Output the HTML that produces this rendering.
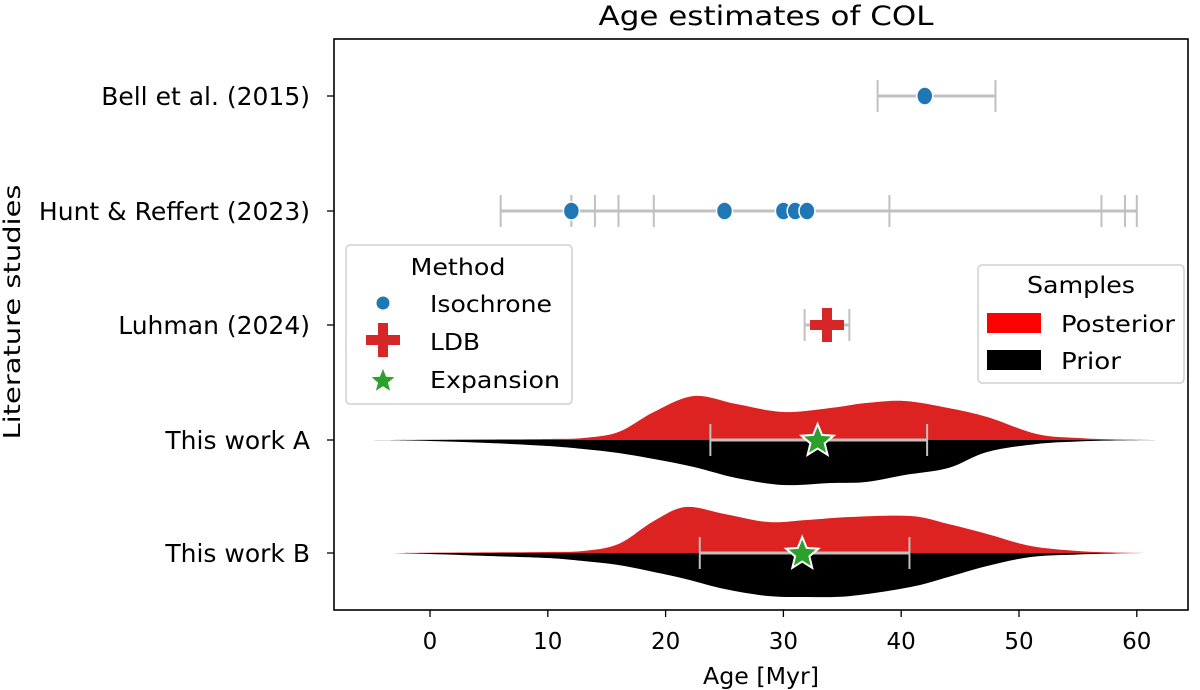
<!DOCTYPE html>
<html><head><meta charset="utf-8"><style>
body{margin:0;background:#fff}
svg{display:block;font-family:"DejaVu Sans","Liberation Sans",sans-serif}
</style></head><body>
<svg id="chart" width="1200" height="690" viewBox="0 0 1200 690">
<text x="766" y="25" font-size="27" text-anchor="middle" textLength="335" lengthAdjust="spacingAndGlyphs">Age estimates of COL</text>
<g id="marks"></g>
<rect x="334" y="39" width="854" height="571" fill="none" stroke="#000" stroke-width="1.6"/>
<g id="axes"></g>
<text x="761" y="684" font-size="23" text-anchor="middle" textLength="116" lengthAdjust="spacingAndGlyphs">Age [Myr]</text>
<text transform="translate(20,312) rotate(-90)" font-size="23" text-anchor="middle" textLength="255" lengthAdjust="spacingAndGlyphs">Literature studies</text>
<g>
<rect x="346" y="245" width="226" height="159" rx="4" fill="#fff" fill-opacity="0.85" stroke="#d0d0d0" stroke-width="1.5"/>
<text x="458" y="275" font-size="23" text-anchor="middle" textLength="95" lengthAdjust="spacingAndGlyphs">Method</text>
<circle cx="383" cy="303" r="6.5" fill="#1f77b4"/>
<text x="430" y="312" font-size="23" textLength="122" lengthAdjust="spacingAndGlyphs">Isochrone</text>
<path d="M378,323h10v12h12v10h-12v12h-10v-12h-12v-10h12z" fill="#d62728"/>
<text x="430" y="350" font-size="23" textLength="50" lengthAdjust="spacingAndGlyphs">LDB</text>
<polygon id="legstar" fill="#2ca02c"/>
<text x="430" y="388" font-size="23" textLength="130" lengthAdjust="spacingAndGlyphs">Expansion</text>
</g>
<g>
<rect x="978" y="265" width="206" height="118" rx="4" fill="#fff" fill-opacity="0.85" stroke="#d0d0d0" stroke-width="1.5"/>
<text x="1081" y="293" font-size="23" text-anchor="middle" textLength="108" lengthAdjust="spacingAndGlyphs">Samples</text>
<rect x="987" y="313" width="54" height="20" fill="#ff0000"/>
<text x="1061" y="332" font-size="23" textLength="114" lengthAdjust="spacingAndGlyphs">Posterior</text>
<rect x="987" y="350" width="54" height="20" fill="#000"/>
<text x="1061" y="369" font-size="23" textLength="60" lengthAdjust="spacingAndGlyphs">Prior</text>
</g>
</svg>
<script>
const rows = ["Bell et al. (2015)","Hunt & Reffert (2023)","Luhman (2024)","This work A","This work B"];
const rowY = [96,211,325,440,553];
const xTicks = [0,10,20,30,40,50,60];
// isochrone points
const isoRows = [0,1,1,1,1,1];
const isoVals = [42,12,25,30,31,32];
const isoLo = [38,6,16,14,19,12];
const isoHi = [48,12,39,57,59,60];
const ldbVal = [33.7], ldbLo=[31.8], ldbHi=[35.6];
const expVals = [32.9,31.6], expLo=[23.8,22.9], expHi=[42.2,40.7];
// violin densities (height units)
const gridA = [-5,0,5,10,13,16,19,22.4,26,30,34,37,40.3,44,47.3,51.5,55,58,62];
const postA = [0,0.3,0.6,1,2,8,28,44,36,28,32,37,39,32,23,6,2,0.6,0];
const priorA = [0,1,3,6,9,13,19,27,38,45,43,42,35,28,12,4,1.5,0.5,0];
const gridB = [-3.5,0,5,10,13,16,19,21.7,25,28.7,32,35.7,40.8,44,47.3,51,55,58,61];
const postB = [0,0.3,0.6,1,2,9,32,46,39,31,33,36,37,29,19,7,2,0.5,0];
const priorB = [0,1,3,5,8,12,19,26,36,43,44,43,34,24,13,4,1.5,0.5,0];

const sx = v => 430 + v*11.78;
const NS = "http://www.w3.org/2000/svg";
const marks = document.getElementById('marks'), axes = document.getElementById('axes');
function mk(tag, attrs, parent){const e=document.createElementNS(NS,tag);for(const k in attrs)e.setAttribute(k,attrs[k]);parent.appendChild(e);return e;}

function smoothPath(grid, vals, y0, sign){
  const pts = grid.map((g,i)=>[sx(g), y0 + sign*vals[i]]);
  let d = `M${pts[0][0]},${y0}`;
  d += `L${pts[0][0]},${pts[0][1]}`;
  for(let i=0;i<pts.length-1;i++){
    const p0=pts[Math.max(0,i-1)],p1=pts[i],p2=pts[i+1],p3=pts[Math.min(pts.length-1,i+2)];
    const c1=[p1[0]+(p2[0]-p0[0])/6,p1[1]+(p2[1]-p0[1])/6];
    const c2=[p2[0]-(p3[0]-p1[0])/6,p2[1]-(p3[1]-p1[1])/6];
    d+=`C${c1[0]},${c1[1]} ${c2[0]},${c2[1]} ${p2[0]},${p2[1]}`;
  }
  return d+'Z';
}
[[gridA,postA,priorA,3,'a'],[gridB,postB,priorB,4,'b']].forEach(([g,po,pr,r,n])=>{
  let e=mk('path',{d:smoothPath(g,po,rowY[r],-1),fill:'#dd2222'},marks);
  
  
  e=mk('path',{d:smoothPath(g,pr,rowY[r],1),fill:'#000'},marks);
  
  
});
function errbar(y,lo,hi,name){
  const g=mk('g',{stroke:'#c0c0c0','stroke-width':3},marks);
  
  
  mk('line',{x1:sx(lo),x2:sx(hi),y1:y,y2:y},g);
  mk('line',{x1:sx(lo),x2:sx(lo),y1:y-16,y2:y+16,'stroke-width':2},g);
  mk('line',{x1:sx(hi),x2:sx(hi),y1:y-16,y2:y+16,'stroke-width':2},g);
}
isoVals.forEach((v,i)=>errbar(rowY[isoRows[i]],isoLo[i],isoHi[i],'isochrone-errorbar'));
ldbVal.forEach((v,i)=>errbar(rowY[2],ldbLo[i],ldbHi[i],'ldb-errorbar'));
expVals.forEach((v,i)=>errbar(rowY[3+i],expLo[i],expHi[i],'expansion-errorbar'));
isoVals.forEach((v,i)=>{
  const c=mk('ellipse',{cx:sx(v),cy:rowY[isoRows[i]],rx:8,ry:9,fill:'#1f77b4',stroke:'#fff','stroke-width':1.5},marks);
  
  
});
ldbVal.forEach(v=>{
  const x=sx(v),y=rowY[2];
  const p=mk('path',{d:`M${x-5},${y-17}h10v12h12v10h-12v12h-10v-12h-12v-10h12z`,fill:'#d62728'},marks);
  
  
});
function starPts(cx,cy,R,r){let s=[];for(let k=0;k<10;k++){const a=-Math.PI/2+k*Math.PI/5,rr=k%2?r:R;s.push((cx+rr*Math.cos(a)).toFixed(1)+','+(cy+rr*Math.sin(a)).toFixed(1));}return s.join(' ');}
expVals.forEach((v,i)=>{
  const s=mk('polygon',{points:starPts(sx(v),rowY[3+i]+1,17,7.5),fill:'#2ca02c',stroke:'#fff','stroke-width':2},marks);
  
  
});
document.getElementById('legstar').setAttribute('points',starPts(383,381,12,5.2));
xTicks.forEach(t=>{
  const l=mk('line',{x1:sx(t),x2:sx(t),y1:610,y2:617,stroke:'#000','stroke-width':1.3},axes);
  
  
  const tx=mk('text',{x:sx(t),y:649,'font-size':23,'text-anchor':'middle'},axes);
  tx.textContent=t;
  
  
});
rows.forEach((r,i)=>{
  const l=mk('line',{x1:327,x2:334,y1:rowY[i],y2:rowY[i],stroke:'#000','stroke-width':1.3},axes);
  
  
  const tx=mk('text',{x:310,y:rowY[i]+9,'font-size':25,'text-anchor':'end'},axes);
  tx.textContent=r;
  
  
});
</script>
</body></html>
